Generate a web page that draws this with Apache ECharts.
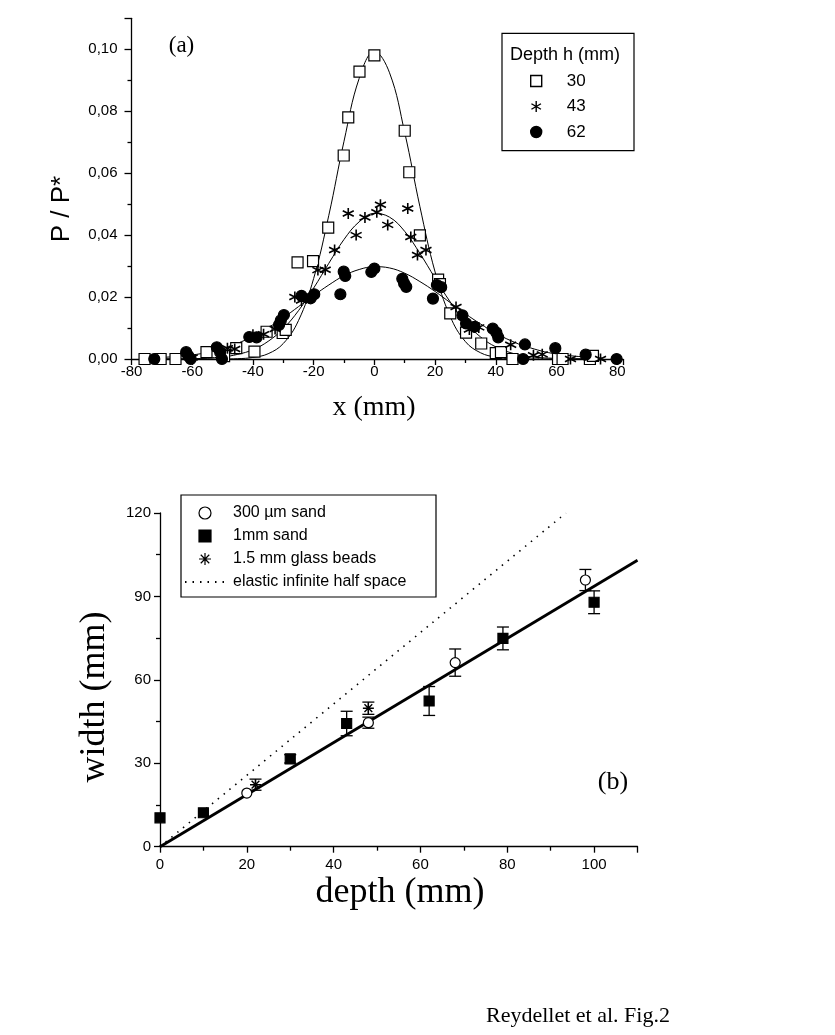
<!DOCTYPE html>
<html>
<head>
<meta charset="utf-8">
<title>Reydellet et al. Fig.2</title>
<script src="https://cdn.jsdelivr.net/npm/echarts@6/dist/echarts.min.js"></script>
<style>
  html, body { margin: 0; padding: 0; background: #fff; }
  #main { width: 835px; height: 1035px; }
</style>
</head>
<body>
<div id="main"></div>
<script>
// (a) pressure profiles P/P* against x (mm), one list per depth h
const depth30 = [[-75.7,0],[-70.4,0],[-65.5,0],[-55.3,0.0022],[-49.5,0.0009],[-45.5,0.0035],[-39.5,0.0024],
  [-35.5,0.0088],[-30.2,0.0084],[-29.2,0.0094],[-25.3,0.0312],[-20.2,0.0316],[-15.2,0.0424],[-10.1,0.0657],
  [-8.6,0.0780],[-4.9,0.0928],[0,0.0980],[10,0.0737],[11.5,0.0603],[15,0.0399],[21,0.0256],[21.6,0.0242],
  [25,0.0147],[30.2,0.0085],[35.2,0.0050],[40,0.0019],[41.7,0.0022],[45.5,0],[60.5,0],[62,0],[71,0],[72,0.0010]];
const depth43 = [[-60,0.0005],[-48.4,0.0035],[-46,0.0032],[-40,0.0078],[-36.5,0.0080],[-32.7,0.0097],
  [-26.2,0.0200],[-24,0.0189],[-18.6,0.0287],[-16.2,0.0288],[-13.1,0.0352],[-8.6,0.0470],[-6,0.0400],
  [-3.1,0.0457],[0.8,0.0474],[2,0.0498],[4.4,0.0433],[11,0.0486],[12,0.0394],[14.2,0.0336],[17,0.0352],
  [26.9,0.0168],[31.3,0.0095],[34.4,0.0102],[44.9,0.0046],[52.4,0.0012],[55.3,0.0015],[64.6,0],[74.5,0]];
const depth62 = [[-72.5,0],[-62,0.0022],[-61.3,0.0010],[-60.5,0],[-51.9,0.0038],[-50.8,0.0022],[-50.2,0],
  [-41.2,0.0071],[-38.8,0.0070],[-31.4,0.0110],[-30.8,0.0125],[-29.8,0.0142],[-24,0.0204],[-21,0.0196],
  [-19.8,0.0209],[-11.2,0.0209],[-10.1,0.0282],[-9.6,0.0268],[-1,0.0281],[0,0.0292],[9.2,0.0259],[9.8,0.0244],
  [10.5,0.0233],[19.3,0.0195],[20.6,0.0239],[22,0.0232],[29,0.0141],[30.2,0.0115],[33,0.0104],[39,0.0098],
  [40.2,0.0085],[40.8,0.0070],[49,0],[49.6,0.0047],[59.6,0.0035],[69.6,0.0014],[79.8,0]];

// fitted curves
const fitX  = [-75,-60,-50,-45,-40,-35,-30,-25,-20,-15,-10,-5,0,5,10,15,20,25,30,35,40,45,50,60,75];
const fit30 = [0,0,0,0.0001,0.0005,0.0017,0.0050,0.0124,0.0260,0.0464,0.0703,0.0906,0.0993,0.0924,0.0731,
  0.0492,0.0281,0.0137,0.0056,0.0020,0.0006,0.0001,0,0,0];
const fit43 = [0,0.0001,0.0007,0.0015,0.0030,0.0057,0.0098,0.0156,0.0229,0.0309,0.0386,0.0443,0.0470,0.0458,
  0.0412,0.0341,0.0261,0.0184,0.0119,0.0071,0.0039,0.0020,0.0009,0.0002,0];
const fit62 = [0.0003,0.0013,0.0034,0.0051,0.0073,0.0101,0.0133,0.0169,0.0205,0.0239,0.0269,0.0289,0.0298,
  0.0294,0.0277,0.0250,0.0218,0.0182,0.0146,0.0113,0.0083,0.0059,0.0040,0.0016,0.0003];

// (b) width (mm) against depth (mm), error = half bar
const sand300 = [[20,19.3],[48,44.6],[68,66.2],[98,95.9]];
const sand300Err = [0,2,4.9,3.8];
const sand1mm = [[0,10.4],[10,12.2],[30,31.6],[43,44.3],[62,52.4],[79,74.9],[100,87.9]];
const sand1mmErr = [0,0,1.5,4.4,5.2,4.1,4.1];
const glass15 = [[22,22.3],[48,49.8]];
const glass15Err = [2,2.2];
const fitLine = [[0,0],[110,103]];
const elastic = [[0,0],[93.5,120]];

const SANS = 'Liberation Sans';
const SERIF = 'Liberation Serif';
const star6 = 'path://M5,0L5,10M0.67,2.5L9.33,7.5M0.67,7.5L9.33,2.5';
const star8 = 'path://M5,0L5,10M0,5L10,5M1.46,1.46L8.54,8.54M1.46,8.54L8.54,1.46';
const square = 'path://M0,0L10,0L10,10L0,10Z';

const black = { color: '#000', width: 1.3 };

function pairs(xs, ys) {
    return xs.map((x, i) => [x, ys[i]]);
}
function errRows(points, errs) {
    let rows = [];
    points.forEach((p, i) => {
        if (errs[i] > 0) rows.push([p[0], p[1] - errs[i], p[1] + errs[i]]);
    });
    return rows;
}
function renderErr(params, api) {
    let top = api.coord([api.value(0), api.value(2)]);
    let bot = api.coord([api.value(0), api.value(1)]);
    let w = 6;
    let st = { stroke: '#000', lineWidth: 1.3 };
    return {
        type: 'group',
        children: [
            { type: 'line', shape: { x1: top[0], y1: top[1], x2: bot[0], y2: bot[1] }, style: st },
            { type: 'line', shape: { x1: top[0] - w, y1: top[1], x2: top[0] + w, y2: top[1] }, style: st },
            { type: 'line', shape: { x1: bot[0] - w, y1: bot[1], x2: bot[0] + w, y2: bot[1] }, style: st }
        ]
    };
}
function valueAxis(grid, min, max, interval, extra) {
    return Object.assign({
        type: 'value', gridIndex: grid, min: min, max: max, interval: interval,
        axisLine: { show: true, onZero: false, lineStyle: black },
        axisTick: { show: true, length: 6, lineStyle: black },
        minorTick: { show: true, splitNumber: 2, length: 4, lineStyle: black },
        splitLine: { show: false },
        axisLabel: { color: '#000', fontSize: 15, fontFamily: SANS }
    }, extra);
}
function fitSeries(name, data, width, dash, grid) {
    return {
        name: name, type: 'line', xAxisIndex: grid, yAxisIndex: grid, data: data,
        symbol: 'none', smooth: 0.4, silent: true, z: 1,
        itemStyle: { color: 'transparent', borderColor: 'transparent' },
        lineStyle: { color: '#000', width: width, type: dash || 'solid' }
    };
}
function dots(name, data, symbol, size, fill, grid, bw) {
    return {
        name: name, type: 'scatter', xAxisIndex: grid, yAxisIndex: grid, data: data,
        symbol: symbol, symbolSize: size, z: 3,
        itemStyle: { color: fill, borderColor: '#000', borderWidth: bw || 1.2, opacity: 1 }
    };
}
function text(str, x, y, size, family, rot) {
    return {
        type: 'text', x: x, y: y, rotation: rot || 0, z: 10,
        style: { text: str, fill: '#000', fontSize: size, fontFamily: family,
                 textAlign: 'center', textVerticalAlign: 'middle' }
    };
}

let chart = echarts.init(document.getElementById('main'));
let option = {
    animation: false,
    backgroundColor: '#fff',
    grid: [
        { left: 131.5, top: 18.3, width: 491.8, height: 340.7 },
        { left: 160, top: 513, width: 477.5, height: 333.7 }
    ],
    xAxis: [
        valueAxis(0, -80, 82, 20, { axisLabel: { color: '#000', fontSize: 15, fontFamily: SANS, margin: 5, showMaxLabel: false } }),
        valueAxis(1, 0, 110, 20, { axisLabel: { color: '#000', fontSize: 15, fontFamily: SANS, margin: 11, showMaxLabel: false } })
    ],
    yAxis: [
        valueAxis(0, 0, 0.11, 0.02, {
            axisTick: { show: true, length: 7, lineStyle: black },
            axisLabel: { color: '#000', fontSize: 15, fontFamily: SANS, margin: 14, showMaxLabel: false,
                         formatter: v => v.toFixed(2).replace('.', ',') }
        }),
        valueAxis(1, 0, 120, 30, { axisLabel: { color: '#000', fontSize: 15, fontFamily: SANS, margin: 9 } })
    ],
    legend: [
        {
            data: ['30', '43', '62'], orient: 'vertical', left: 530, top: 72.5, padding: 0,
            itemWidth: 11, itemHeight: 11, itemGap: 8.5, selectedMode: false,
            itemStyle: { borderWidth: 1.4 },
            textStyle: { color: '#000', fontSize: 17, fontFamily: SANS, padding: [0, 0, 0, 20] }
        },
        {
            data: ['300 µm sand', '1mm sand', '1.5 mm glass beads', 'elastic infinite half space'],
            orient: 'vertical', left: 184, top: 505, padding: 0,
            itemWidth: 40, itemHeight: 12, itemGap: 7, selectedMode: false,
            itemStyle: { borderWidth: 1.2 },
            textStyle: { color: '#000', fontSize: 16, fontFamily: SANS, padding: [0, 0, 0, 3] }
        }
    ],
    graphic: [
        { type: 'rect', shape: { x: 502, y: 33.3, width: 132, height: 117.4 }, style: { fill: 'none', stroke: '#000', lineWidth: 1.2 } },
        { type: 'rect', shape: { x: 181, y: 495, width: 255, height: 102 }, style: { fill: 'none', stroke: '#000', lineWidth: 1.2 } },
        text('Depth h (mm)', 565, 55, 18, SANS),
        text('(a)', 181.5, 46, 23, SERIF),
        text('P / P*', 62, 209, 26, SANS, Math.PI / 2),
        text('x (mm)', 374, 408, 28, SERIF),
        text('(b)', 613, 782, 26, SERIF),
        text('width (mm)', 95, 697, 36, SERIF, Math.PI / 2),
        text('depth (mm)', 400, 893, 36, SERIF),
        text('Reydellet et al. Fig.2', 578, 1016, 22, SERIF)
    ],
    series: [
        fitSeries('fit30', pairs(fitX, fit30), 1, null, 0),
        fitSeries('fit43', pairs(fitX, fit43), 1, null, 0),
        fitSeries('fit62', pairs(fitX, fit62), 1, null, 0),
        dots('30', depth30, square, 11, '#fff', 0),
        dots('43', depth43, star6, 11, 'transparent', 0, 1.6),
        dots('62', depth62, 'circle', 11, '#000', 0),

        fitSeries('fit', fitLine, 2.8, null, 1),
        fitSeries('elastic infinite half space', elastic, 1.6, [1.5, 6], 1),
        { name: 'err300', type: 'custom', xAxisIndex: 1, yAxisIndex: 1, renderItem: renderErr,
          data: errRows(sand300, sand300Err), encode: { x: 0, y: [1, 2] }, z: 2, silent: true },
        { name: 'err1mm', type: 'custom', xAxisIndex: 1, yAxisIndex: 1, renderItem: renderErr,
          data: errRows(sand1mm, sand1mmErr), encode: { x: 0, y: [1, 2] }, z: 2, silent: true },
        { name: 'errGlass', type: 'custom', xAxisIndex: 1, yAxisIndex: 1, renderItem: renderErr,
          data: errRows(glass15, glass15Err), encode: { x: 0, y: [1, 2] }, z: 2, silent: true },
        dots('300 µm sand', sand300, 'circle', 10, '#fff', 1),
        dots('1mm sand', sand1mm, square, 10, '#000', 1),
        dots('1.5 mm glass beads', glass15, star8, 11, 'transparent', 1, 1.4)
    ]
};
chart.setOption(option);
</script>
</body>
</html>
